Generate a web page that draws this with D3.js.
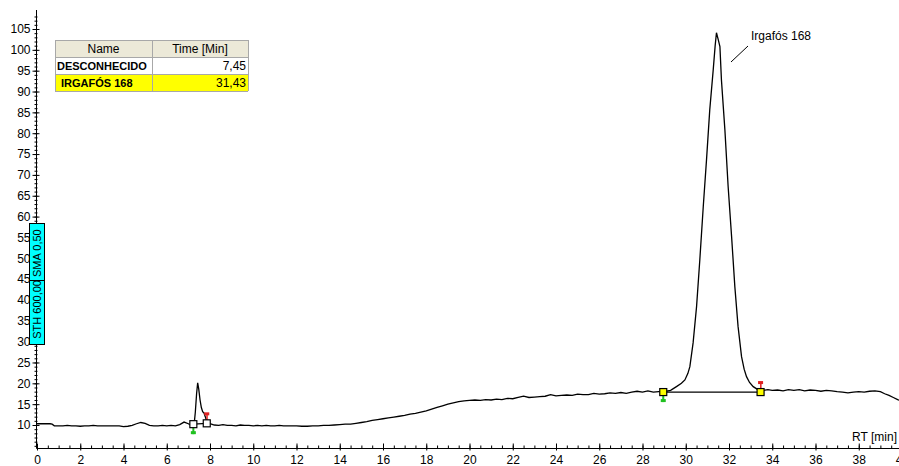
<!DOCTYPE html>
<html>
<head>
<meta charset="utf-8">
<script src="https://cdn.jsdelivr.net/npm/d3@7"></script>
<style>
  body { margin: 0; background: #fff; }
  svg { display: block; font-family: "Liberation Sans", Arial, sans-serif; }
</style>
</head>
<body>
<svg id="chart" width="899" height="466"></svg>
<script>
// Chromatogram data (RT in min, signal in mAU-ish units)
const rtMin = [
  0, 0.2, 0.4, 0.6, 0.7, 0.8, 1.0, 1.2, 1.4, 1.6, 1.8, 2.0, 2.2, 2.4, 2.6, 2.8, 3.0, 3.2, 3.4, 3.6,
  3.8, 4.0, 4.2, 4.4, 4.6, 4.8, 5.0, 5.2, 5.4, 5.6, 5.8, 6.0, 6.2, 6.4, 6.6, 6.8, 7.0, 7.1, 7.2,
  7.27, 7.32, 7.38, 7.43, 7.48, 7.54, 7.6, 7.66, 7.72, 7.78, 7.84, 7.9, 8.0,
  8.2, 8.4, 8.6, 8.8, 9.0, 9.2, 9.4, 9.6, 9.8, 10.0, 10.2, 10.4, 10.6, 10.8, 11.0, 11.2, 11.4, 11.6,
  11.8, 12.0, 12.25, 12.5, 12.75, 13.0, 13.25, 13.5, 13.75, 14.0, 14.25, 14.5, 14.75, 15.0, 15.25,
  15.5, 15.75, 16.0, 16.25, 16.5, 16.75, 17.0, 17.25, 17.5, 17.75, 18.0, 18.25, 18.5, 18.75, 19.0,
  19.25, 19.5, 19.75, 20.0, 20.25, 20.5, 20.75, 21.0, 21.25, 21.5, 21.75, 22.0, 22.25, 22.5, 22.75,
  23.0, 23.25, 23.5, 23.75, 24.0, 24.25, 24.5, 24.75, 25.0, 25.25, 25.5, 25.75, 26.0, 26.25, 26.5,
  26.75, 27.0, 27.25, 27.5, 27.75, 28.0, 28.25, 28.5, 28.75, 29.0,
  29.3, 29.57, 29.8, 29.96, 30.1, 30.19, 30.34, 30.5, 30.65, 30.81, 30.96, 31.11, 31.27, 31.36,
  31.42, 31.5, 31.58, 31.65, 31.81, 31.96, 32.12, 32.27, 32.42, 32.58, 32.7, 32.81, 32.95, 33.12,
  33.3, 33.43,
  33.6, 33.8, 34.0, 34.25, 34.5, 34.75, 35.0, 35.25, 35.5, 35.75, 36.0, 36.25, 36.5, 36.75, 37.0,
  37.25, 37.5, 37.75, 38.0, 38.25, 38.5, 38.75, 39.0, 39.2, 39.4, 39.6, 39.8, 39.9
];
const signal = [
  10.3, 10.3, 10.3, 10.3, 10.2, 9.8, 9.8, 9.8, 9.9, 9.8, 9.8, 9.7, 9.8, 9.8, 9.9, 9.8, 9.8, 9.8, 9.8, 9.8,
  9.8, 9.6, 9.7, 9.9, 10.3, 10.6, 10.4, 9.9, 9.8, 9.8, 9.9, 9.8, 9.9, 9.8, 10.1, 10.7, 10.3, 10.0, 10.1,
  10.4, 13.0, 17.5, 20.1, 18.6, 16.0, 14.2, 13.2, 12.9, 12.0, 11.0, 10.5, 10.3,
  10.0, 9.9, 10.1, 9.9, 9.9, 9.8, 10.0, 9.9, 9.9, 9.8, 9.9, 9.8, 9.9, 9.8, 9.8, 9.9, 9.8, 9.8,
  9.8, 9.8, 9.7, 9.7, 9.8, 9.8, 9.9, 9.9, 10.0, 10.1, 10.2, 10.2, 10.4, 10.6, 10.8,
  11.1, 11.3, 11.5, 11.7, 11.9, 12.1, 12.3, 12.6, 12.8, 13.1, 13.4, 13.8, 14.2, 14.6, 15.0,
  15.3, 15.6, 15.8, 15.9, 16.0, 15.9, 16.1, 16.0, 16.2, 16.1, 16.4, 16.3, 16.6, 16.9, 16.6,
  16.7, 16.8, 16.9, 17.3, 17.0, 17.1, 17.2, 17.1, 17.4, 17.3, 17.3, 17.6, 17.4, 17.5, 17.7,
  17.6, 17.8, 17.6, 17.9, 18.1, 17.9, 18.2, 17.9, 18.0, 18.0,
  18.3, 19.2, 20.0, 20.8, 22.4, 24.0, 29.7, 38.4, 49.6, 62.4, 73.6, 85.6, 95.2, 101.0,
  104.1, 102.5, 100.8, 92.8, 80.8, 67.2, 55.2, 43.2, 33.6, 26.4, 23.4, 21.6, 20.2, 19.2,
  18.6, 18.2,
  18.3, 18.5, 18.3, 18.4, 18.2, 18.5, 18.3, 18.5, 18.2, 18.4, 18.3, 18.1, 18.3, 18.2, 18.0,
  17.9, 17.7, 17.9, 18.0, 17.9, 18.1, 18.2, 18.0, 17.5, 17.1, 16.6, 16.1, 15.9
];

// integrated peaks
const peakNames = ["DESCONHECIDO", "IRGAFÓS 168"];
const peakTimes = ["7,45", "31,43"];
const peakStartRT = [7.23, 28.96];
const peakEndRT = [7.85, 33.46];
const peakBaseStart = [10.2, 17.9];
const peakBaseEnd = [10.4, 17.9];

const yLabels = d3.range(10, 106, 5);
const xLabels = d3.range(0, 41, 2);

const svg = d3.select("#chart");
const x = d3.scaleLinear().domain([0, 40]).range([37, 902]);
const y = d3.scaleLinear().domain([10, 105]).range([425, 29]);
const axisY = 448.5, axisX = 36.5;

// axes lines
svg.append("line").attr("x1", axisX).attr("x2", axisX).attr("y1", 10).attr("y2", axisY)
  .attr("stroke", "#000");
svg.append("line").attr("x1", axisX).attr("x2", 899).attr("y1", axisY).attr("y2", axisY)
  .attr("stroke", "#000");

// y axis: labelled ticks on the left, short marks on both sides
const yMajor = svg.append("g").attr("transform", `translate(${axisX},0)`)
  .call(d3.axisLeft(y).tickValues(yLabels).tickSize(4).tickPadding(2));
svg.append("g").attr("transform", `translate(${axisX},0)`)
  .call(d3.axisRight(y).tickValues(yLabels).tickSize(3).tickFormat(""));
svg.append("g").attr("transform", `translate(${axisX},0)`)
  .call(d3.axisLeft(y).tickValues(d3.range(5, 109, 1)).tickSize(2).tickFormat(""));
svg.append("g").attr("transform", `translate(${axisX},0)`)
  .call(d3.axisRight(y).tickValues(d3.range(5, 109, 1)).tickSize(1).tickFormat(""));

// x axis
svg.append("g").attr("transform", `translate(0,${axisY})`)
  .call(d3.axisBottom(x).tickValues(xLabels).tickSize(2).tickPadding(5));
svg.append("g").attr("transform", `translate(0,${axisY})`)
  .call(d3.axisTop(x).tickValues(xLabels).tickSize(5).tickFormat(""));
svg.append("g").attr("transform", `translate(0,${axisY})`)
  .call(d3.axisTop(x).tickValues(d3.range(0, 40.1, 0.5)).tickSize(3).tickFormat(""));

svg.selectAll(".domain").remove();
svg.selectAll(".tick line").attr("stroke", "#000");
svg.selectAll(".tick text").attr("font-size", 12).attr("fill", "#000")
  .attr("font-family", "Liberation Sans, Arial, sans-serif");

svg.append("text").attr("x", 897).attr("y", 441).attr("text-anchor", "end")
  .attr("font-size", 12).text("RT [min]");

// trace
const trace = rtMin.map((t, i) => [t, signal[i]]);
svg.append("path").datum(trace)
  .attr("fill", "none").attr("stroke", "#000").attr("stroke-width", 1.3)
  .attr("d", d3.line().x(d => x(d[0])).y(d => y(d[1])));

// peak baselines + markers
peakStartRT.forEach((s, i) => {
  const x1 = x(s), y1 = y(peakBaseStart[i]);
  const x2 = x(peakEndRT[i]), y2 = y(peakBaseEnd[i]);
  const fill = i === 1 ? "#ffff00" : "#fff";
  svg.append("line").attr("x1", x1).attr("y1", y1).attr("x2", x2).attr("y2", y2)
    .attr("stroke", "#000").attr("stroke-width", 1.2);
  // green start marker (below)
  svg.append("rect").attr("x", x1 - 1).attr("y", y1 + 3).attr("width", 2).attr("height", 7)
    .attr("fill", "#20c020");
  svg.append("rect").attr("x", x1 - 2.5).attr("y", y1 + 7).attr("width", 5).attr("height", 3)
    .attr("fill", "#20c020");
  // red end marker (above)
  svg.append("rect").attr("x", x2 - 0.5).attr("y", y2 - 10).attr("width", 1.5).attr("height", 8)
    .attr("fill", "#e02020");
  svg.append("rect").attr("x", x2 - 2.5).attr("y", y2 - 11).attr("width", 5).attr("height", 3)
    .attr("fill", "#e02020");
  [[x1, y1], [x2, y2]].forEach(p => {
    svg.append("rect").attr("x", p[0] - 3.5).attr("y", p[1] - 3.5).attr("width", 7).attr("height", 7)
      .attr("fill", fill).attr("stroke", "#000").attr("stroke-width", 1.2);
  });
});

// peak label
svg.append("line").attr("x1", 731).attr("y1", 62).attr("x2", 748).attr("y2", 46)
  .attr("stroke", "#000");
svg.append("text").attr("x", 751).attr("y", 40).attr("font-size", 12).text("Irgafós 168");

// cyan threshold box
svg.append("rect").attr("x", 29.5).attr("y", 223.5).attr("width", 15).attr("height", 121)
  .attr("fill", "#00ffff").attr("stroke", "#000");
svg.append("line").attr("x1", 29.5).attr("x2", 44.5).attr("y1", 280.5).attr("y2", 280.5)
  .attr("stroke", "#000");
svg.append("text").attr("transform", "translate(41,284) rotate(-90)")
  .attr("text-anchor", "middle").attr("font-size", 11).text("STH 600,00 SMA 0,50");

// peak table
const tbl = svg.append("g");
const colX = [55, 152, 248];
const rowY = [40, 57, 74, 91];
tbl.append("rect").attr("x", colX[0]).attr("y", rowY[0]).attr("width", colX[2] - colX[0])
  .attr("height", rowY[1] - rowY[0]).attr("fill", "#ece9d8");
tbl.append("rect").attr("x", colX[0]).attr("y", rowY[2]).attr("width", colX[2] - colX[0])
  .attr("height", rowY[3] - rowY[2]).attr("fill", "#ffff00");
rowY.forEach(r => tbl.append("line").attr("x1", colX[0]).attr("x2", colX[2])
  .attr("y1", r + 0.5).attr("y2", r + 0.5).attr("stroke", "#a8a8a8"));
colX.forEach(c => tbl.append("line").attr("x1", c + 0.5).attr("x2", c + 0.5)
  .attr("y1", rowY[0]).attr("y2", rowY[3]).attr("stroke", "#a8a8a8"));
tbl.append("text").attr("x", (colX[0] + colX[1]) / 2).attr("y", 53).attr("text-anchor", "middle")
  .attr("font-size", 12).text("Name");
tbl.append("text").attr("x", (colX[1] + colX[2]) / 2).attr("y", 53).attr("text-anchor", "middle")
  .attr("font-size", 12).text("Time [Min]");
peakNames.forEach((n, i) => {
  tbl.append("text").attr("x", i === 0 ? 57 : 61).attr("y", rowY[i + 1] + 13)
    .attr("font-size", 11).attr("font-weight", "bold").text(n);
  tbl.append("text").attr("x", colX[2] - 2).attr("y", rowY[i + 1] + 13).attr("text-anchor", "end")
    .attr("font-size", 12).text(peakTimes[i]);
});
</script>
</body>
</html>
